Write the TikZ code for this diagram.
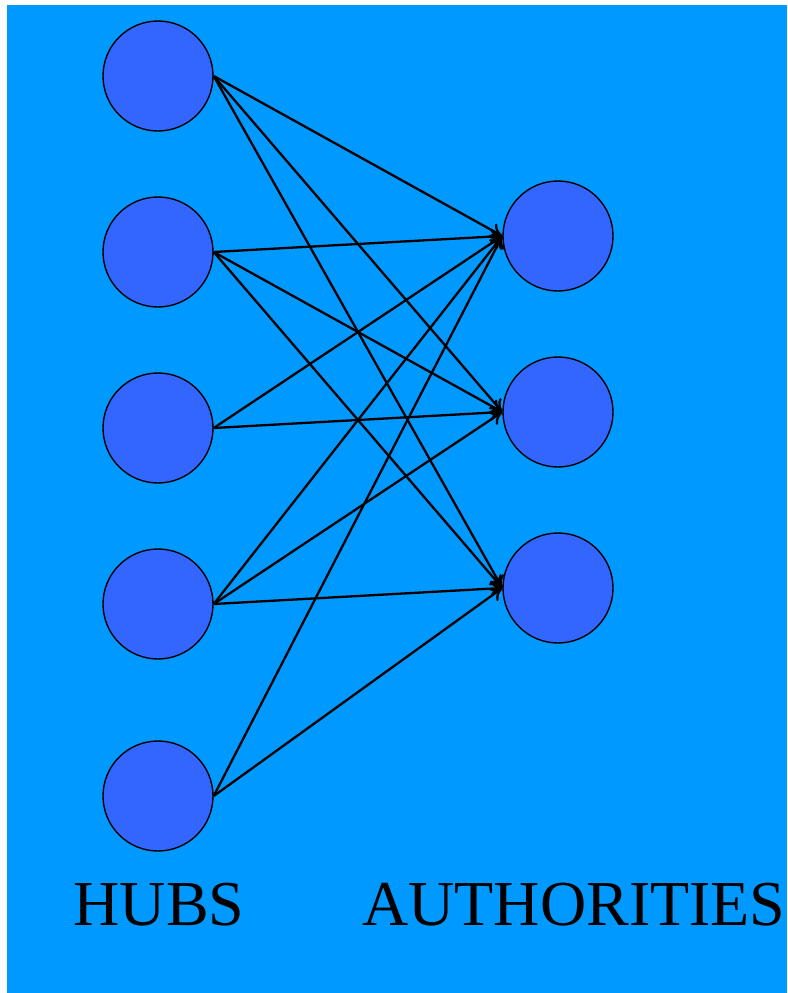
\documentclass[tikz,border=0pt]{standalone}
\usepackage{fontspec}
\setmainfont{Liberation Serif}
\usetikzlibrary{arrows.meta}
\definecolor{bg}{HTML}{0099FF}
\definecolor{nodefill}{HTML}{3366FF}
\begin{document}
\begin{tikzpicture}[x=1pt,y=-1pt,
  vertex/.style={circle,draw=black,line width=1.4pt,fill=nodefill,minimum size=110pt,inner sep=0pt},
  link/.style={line width=2.3pt,-{To[length=12pt,width=16pt,line width=2.3pt]}},
  lbl/.style={font=\fontsize{64pt}{68pt}\selectfont,inner sep=0pt}]
\useasboundingbox (0,0) rectangle (787,993);
\fill[white] (0,0) rectangle (787,993);
\fill[bg] (7,5) rectangle (787,993);
\node[vertex] (h1) at (158,76) {};
\node[vertex] (h2) at (158,252) {};
\node[vertex] (h3) at (158,428) {};
\node[vertex] (h4) at (158,604) {};
\node[vertex] (h5) at (158,796) {};
\node[vertex] (a1) at (558,236) {};
\node[vertex] (a2) at (558,412) {};
\node[vertex] (a3) at (558,588) {};
\foreach \h/\a in {h1/a1,h1/a2,h1/a3,h2/a1,h2/a2,h2/a3,h3/a1,h3/a2,h4/a1,h4/a2,h4/a3,h5/a1,h5/a3}
  \draw[link] (\h.east) -- (\a.west);
\node[lbl] (hubs) at (159,905) {HUBS};
\node[lbl] (auth) at (574,905) {AUTHORITIES};
\end{tikzpicture}
\end{document}
